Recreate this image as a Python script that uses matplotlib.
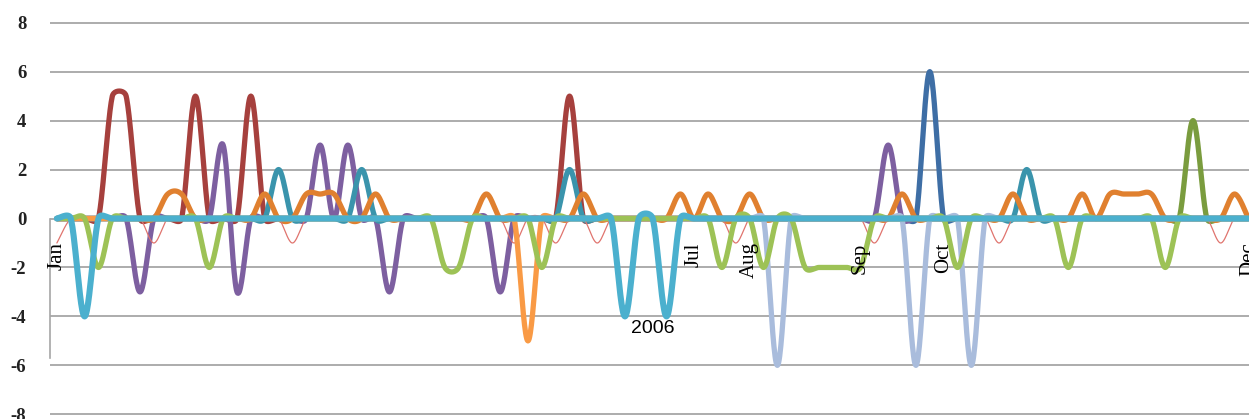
import numpy as np
import matplotlib
matplotlib.use("Agg")
import matplotlib.pyplot as plt

plt.rcParams['axes.unicode_minus'] = False

# category slots along the x axis (one per reading)
slots = list(range(87))

# month labels shown under the zero line, with the slot they sit on
month_names = ["Jan", "Jul", "Aug", "Sep", "Oct", "Dec"]
month_slots = [0, 46, 50, 58, 64, 86]
year_label = "2006"
year_slot = 43

# series values, one per slot, ten slots per row
dark_blue = [0, 0, 0, 0, 0, 0, 0, 0, 0, 0,
             0, 0, 0, 0, 0, 0, 0, 0, 0, 0,
             0, 0, 0, 0, 0, 0, 0, 0, 0, 0,
             0, 0, 0, 0, 0, 0, 0, 0, 0, 0,
             0, 0, 0, 0, 0, 0, 0, 0, 0, 0,
             0, 0, 0, 0, 0, 0, 0, 0, 0, 0,
             0, 0, 0, 6, 0, 0, 0, 0, 0, 0,
             0, 0, 0, 0, 0, 0, 0, 0, 0, 0,
             0, 0, 0, 0, 0, 0, 0]
red = [0, 0, 0, 0, 5, 5, 0, 0, 0, 0,
       5, 0, 0, 0, 5, 0, 0, 0, 0, 0,
       0, 0, 0, 0, 0, 0, 0, 0, 0, 0,
       0, 0, 0, 0, 0, 0, 0, 5, 0, 0,
       0, 0, 0, 0, 0, 0, 0, 0, 0, 0,
       0, 0, 0, 0, 0, 0, 0, 0, 0, 0,
       0, 0, 0, 0, 0, 0, 0, 0, 0, 0,
       0, 0, 0, 0, 0, 0, 0, 0, 0, 0,
       0, 0, 0, 0, 0, 0, 0]
olive = [0, 0, 0, 0, 0, 0, 0, 0, 0, 0,
         0, 0, 0, 0, 0, 0, 0, 0, 0, 0,
         0, 0, 0, 0, 0, 0, 0, 0, 0, 0,
         0, 0, 0, 0, 0, 0, 0, 0, 0, 0,
         0, 0, 0, 0, 0, 0, 0, 0, 0, 0,
         0, 0, 0, 0, 0, 0, 0, 0, 0, 0,
         0, 0, 0, 0, 0, 0, 0, 0, 0, 0,
         0, 0, 0, 0, 0, 0, 0, 0, 0, 0,
         0, 0, 4, 0, 0, 0, 0]
purple = [0, 0, 0, 0, 0, 0, -3, 0, 0, 0,
          0, 0, 3, -3, 0, 0, 0, 0, 0, 3,
          0, 3, 0, 0, -3, 0, 0, 0, 0, 0,
          0, 0, -3, 0, 0, 0, 0, 0, 0, 0,
          0, 0, 0, 0, 0, 0, 0, 0, 0, 0,
          0, 0, 0, 0, 0, 0, 0, 0, 0, 0,
          3, 0, 0, 0, 0, 0, 0, 0, 0, 0,
          0, 0, 0, 0, 0, 0, 0, 0, 0, 0,
          0, 0, 0, 0, 0, 0, 0]
teal = [0, 0, 0, 0, 0, 0, 0, 0, 0, 0,
        0, 0, 0, 0, 0, 0, 2, 0, 0, 0,
        0, 0, 2, 0, 0, 0, 0, 0, 0, 0,
        0, 0, 0, 0, 0, 0, 0, 2, 0, 0,
        0, 0, 0, 0, 0, 0, 0, 0, 0, 0,
        0, 0, 0, 0, 0, 0, 0, 0, 0, 0,
        0, 0, 0, 0, 0, 0, 0, 0, 0, 0,
        2, 0, 0, 0, 0, 0, 0, 0, 0, 0,
        0, 0, 0, 0, 0, 0, 0]
orange = [0, 0, 0, 0, 0, 0, 0, 0, 1, 1,
          0, 0, 0, 0, 0, 1, 0, 0, 1, 1,
          1, 0, 0, 1, 0, 0, 0, 0, 0, 0,
          0, 1, 0, 0, 0, 0, 0, 0, 1, 0,
          0, 0, 0, 0, 0, 1, 0, 1, 0, 0,
          1, 0, 0, 0, 0, 0, 0, 0, 0, 0,
          0, 1, 0, 0, 0, 0, 0, 0, 0, 1,
          0, 0, 0, 0, 1, 0, 1, 1, 1, 1,
          0, 0, 0, 0, 0, 1, 0]
thin_red = [-1, 0, 0, 0, 0, 0, 0, -1, 0, 0,
            0, 0, 0, 0, 0, 0, 0, -1, 0, 0,
            0, 0, 0, 0, 0, 0, 0, 0, 0, 0,
            0, 0, 0, -1, 0, 0, -1, 0, 0, -1,
            0, 0, 0, 0, 0, 0, 0, 0, 0, -1,
            0, 0, 0, 0, 0, 0, 0, 0, 0, -1,
            0, 0, 0, 0, 0, 0, 0, 0, -1, 0,
            0, 0, 0, 0, 0, 0, 0, 0, 0, 0,
            0, 0, 0, 0, -1, 0, 0]
steel = [0, 0, 0, 0, 0, 0, 0, 0, 0, 0,
         0, 0, 0, 0, 0, 0, 0, 0, 0, 0,
         0, 0, 0, 0, 0, 0, 0, 0, 0, 0,
         0, 0, 0, 0, 0, 0, 0, 0, 0, 0,
         0, 0, 0, 0, 0, 0, 0, 0, 0, 0,
         0, 0, -6, 0, 0, 0, 0, 0, 0, 0,
         0, 0, -6, 0, 0, 0, -6, 0, 0, 0,
         0, 0, 0, 0, 0, 0, 0, 0, 0, 0,
         0, 0, 0, 0, 0, 0, 0]
light_orange = [0, 0, 0, 0, 0, 0, 0, 0, 0, 0,
                0, 0, 0, 0, 0, 0, 0, 0, 0, 0,
                0, 0, 0, 0, 0, 0, 0, 0, 0, 0,
                0, 0, 0, 0, -5, 0, 0, 0, 0, 0,
                0, 0, 0, 0, 0, 0, 0, 0, 0, 0,
                0, 0, 0, 0, 0, 0, 0, 0, 0, 0,
                0, 0, 0, 0, 0, 0, 0, 0, 0, 0,
                0, 0, 0, 0, 0, 0, 0, 0, 0, 0,
                0, 0, 0, 0, 0, 0, 0]
green = [0, 0, 0, -2, 0, 0, 0, 0, 0, 0,
         0, -2, 0, 0, 0, 0, 0, 0, 0, 0,
         0, 0, 0, 0, 0, 0, 0, 0, -2, -2,
         0, 0, 0, 0, 0, -2, 0, 0, 0, 0,
         0, 0, 0, 0, 0, 0, 0, 0, -2, 0,
         0, -2, 0, 0, -2, -2, -2, -2, -2, 0,
         0, 0, 0, 0, 0, -2, 0, 0, 0, 0,
         0, 0, 0, -2, 0, 0, 0, 0, 0, 0,
         -2, 0, 0, 0, 0, 0, 0]
sky = [0, 0, -4, 0, 0, 0, 0, 0, 0, 0,
       0, 0, 0, 0, 0, 0, 0, 0, 0, 0,
       0, 0, 0, 0, 0, 0, 0, 0, 0, 0,
       0, 0, 0, 0, 0, 0, 0, 0, 0, 0,
       0, -4, 0, 0, -4, 0, 0, 0, 0, 0,
       0, 0, 0, 0, 0, 0, 0, 0, 0, 0,
       0, 0, 0, 0, 0, 0, 0, 0, 0, 0,
       0, 0, 0, 0, 0, 0, 0, 0, 0, 0,
       0, 0, 0, 0, 0, 0, 0]


def smooth(ax, xs, ys, steps=24):
    # spreadsheet style smoothed line, worked out in screen pixels:
    # a cubic bezier between each pair of points, control arms from the
    # neighbours (tension 1/6) but never longer than half the segment
    pts = ax.transData.transform(np.column_stack([xs, ys]).astype(float))
    n = len(pts)
    t = np.linspace(0, 1, steps, endpoint=False)[:, None]
    mt = 1 - t
    out = []
    for k in range(n - 1):
        p0 = pts[max(k - 1, 0)]
        p1 = pts[k]
        p2 = pts[k + 1]
        p3 = pts[min(k + 2, n - 1)]
        d12 = np.hypot(*(p2 - p1))
        d02 = np.hypot(*(p2 - p0))
        d13 = np.hypot(*(p3 - p1))
        f0 = 1 / 6
        f1 = 1 / 6
        if d02 > 0 and d02 / 6 > d12 / 2:
            f0 = d12 / 2 / d02
        if d13 > 0 and d13 / 6 > d12 / 2:
            f1 = d12 / 2 / d13
        b1 = p1 + (p2 - p0) * f0
        b2 = p2 - (p3 - p1) * f1
        out.append(mt**3 * p1 + 3 * mt**2 * t * b1 + 3 * mt * t**2 * b2 + t**3 * p2)
    out.append(pts[-1][None, :])
    curve = ax.transData.inverted().transform(np.vstack(out))
    return curve[:, 0], curve[:, 1]


fig = plt.figure(figsize=(12.49, 4.19), dpi=100)
ax = fig.add_axes([0.0400, 0.0053, 0.9600, 0.9464])
ax.set_xlim(-0.5, 86.04)
ax.set_ylim(-8.1, 8.1)

# drawing order: later series end up on top
series = [
    (dark_blue, '#3E6EA5', 3.8),
    (red, '#A6403D', 3.8),
    (olive, '#7A9C3E', 3.8),
    (purple, '#7D5FA0', 3.8),
    (teal, '#3A94AC', 3.8),
    (orange, '#E0802F', 3.8),
    (thin_red, '#E0746E', 0.9),
    (steel, '#A9BCDC', 3.8),
    (light_orange, '#F99A45', 3.8),
    (green, '#9DC256', 3.8),
    (sky, '#4BB0CE', 4.4),
]
for vals, col, lw in series:
    sx, sy = smooth(ax, slots, vals)
    ax.plot(sx, sy, color=col, lw=lw, solid_capstyle='round', solid_joinstyle='round')

ax.set_yticks(range(-8, 9, 2))
ax.set_xticks([])
ax.yaxis.grid(True, color='#a6a6a6', lw=1.3)
ax.set_axisbelow(True)
ax.tick_params(axis='y', length=0, pad=17)
for lab in ax.get_yticklabels():
    lab.set_fontfamily('Liberation Serif')
    lab.set_fontweight('bold')
    lab.set_fontsize(13.5)
    lab.set_color('#222222')

for side in ['top', 'right', 'bottom']:
    ax.spines[side].set_visible(False)
ax.spines['left'].set_bounds(-5.7, 0)
ax.spines['left'].set_color('#a6a6a6')
ax.spines['left'].set_linewidth(1.2)

# month labels hang just below the zero line
for name, pos in zip(month_names, month_slots):
    ax.text(pos, -0.98, name, rotation=90, ha='center', va='top',
            fontfamily='Liberation Serif', fontsize=15, color='black')
ax.text(year_slot, -4.5, year_label, ha='center', va='center',
        fontfamily='Liberation Sans', fontsize=14, color='black')

fig.savefig('out.png', dpi=100)
